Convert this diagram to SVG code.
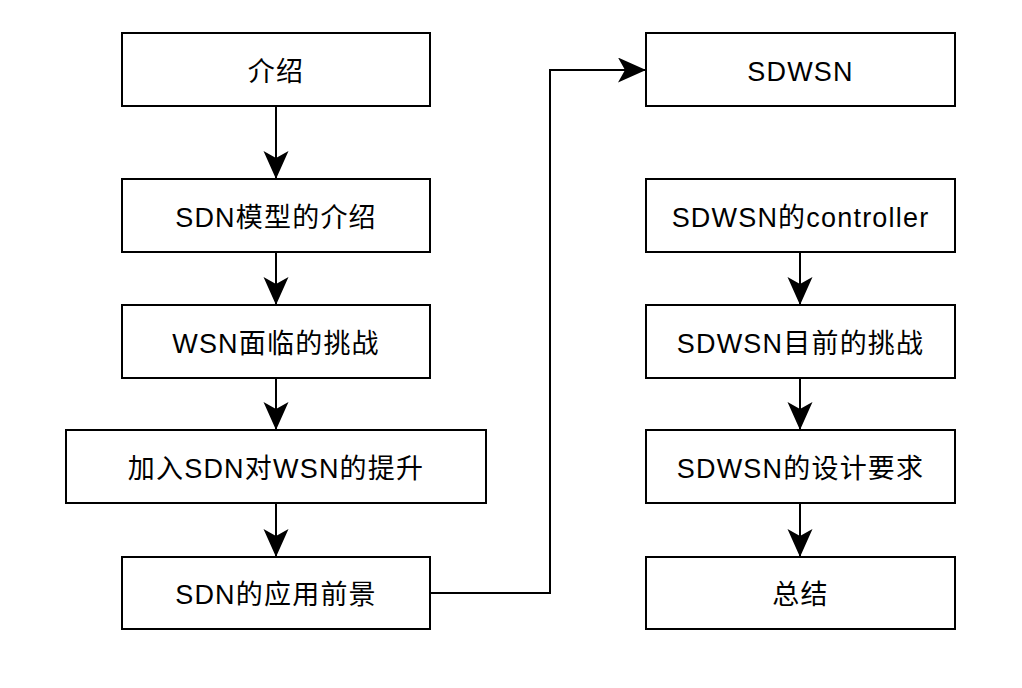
<svg xmlns="http://www.w3.org/2000/svg" width="1022" height="688" viewBox="0 0 1022 688">
<style>
.box{fill:#ffffff;stroke:#000000;stroke-width:2}
.lbl{font-family:"Liberation Sans","Noto Sans CJK SC",sans-serif;font-size:27px;fill:#000000;text-anchor:middle;letter-spacing:1.2px}
.edge{fill:none;stroke:#000000;stroke-width:2;marker-end:url(#arr)}
</style>
<defs>
<marker id="arr" markerUnits="userSpaceOnUse" markerWidth="30" markerHeight="26" refX="28" refY="12.5" orient="auto" viewBox="0 0 30 26">
<path d="M0,0 L28,12.5 L0,25 L7,12.5 Z" fill="#000000"/>
</marker>
</defs>
<rect width="1022" height="688" fill="#ffffff"/>
<g id="connectors">
<path class="edge" d="M276,106 L276,179"/>
<path class="edge" d="M276,252 L276,305"/>
<path class="edge" d="M276,378 L276,430"/>
<path class="edge" d="M276,503 L276,557"/>
<path class="edge" d="M430,593 L550,593 L550,70 L646,70"/>
<path class="edge" d="M800,252 L800,305"/>
<path class="edge" d="M800,378 L800,430"/>
<path class="edge" d="M800,503 L800,557"/>
</g>
<g id="n1"><rect class="box" x="122" y="33" width="308" height="73"/><text class="lbl" x="276" y="81">介绍</text></g>
<g id="n2"><rect class="box" x="122" y="179" width="308" height="73"/><text class="lbl" x="276" y="227">SDN模型的介绍</text></g>
<g id="n3"><rect class="box" x="122" y="305" width="308" height="73"/><text class="lbl" x="276" y="353">WSN面临的挑战</text></g>
<g id="n4"><rect class="box" x="66" y="430" width="420" height="73"/><text class="lbl" x="276" y="478">加入SDN对WSN的提升</text></g>
<g id="n5"><rect class="box" x="122" y="557" width="308" height="72"/><text class="lbl" x="276" y="604">SDN的应用前景</text></g>
<g id="n6"><rect class="box" x="646" y="33" width="309" height="73"/><text class="lbl" x="800.5" y="81">SDWSN</text></g>
<g id="n7"><rect class="box" x="646" y="179" width="309" height="73"/><text class="lbl" x="800.5" y="227">SDWSN的controller</text></g>
<g id="n8"><rect class="box" x="646" y="305" width="309" height="73"/><text class="lbl" x="800.5" y="353">SDWSN目前的挑战</text></g>
<g id="n9"><rect class="box" x="646" y="430" width="309" height="73"/><text class="lbl" x="800.5" y="478">SDWSN的设计要求</text></g>
<g id="n10"><rect class="box" x="646" y="557" width="309" height="72"/><text class="lbl" x="800.5" y="604">总结</text></g>
</svg>
